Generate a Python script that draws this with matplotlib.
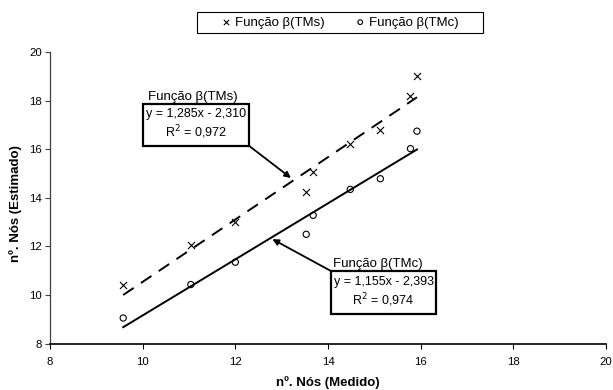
import matplotlib
matplotlib.use("Agg")
import matplotlib.pyplot as plt
from matplotlib.patches import Rectangle
import numpy as np

plt.rcParams['font.family'] = ['Liberation Sans', 'DejaVu Sans']

# Data
x_medido = [9.58, 11.04, 12.0, 13.53, 13.68, 14.48, 15.13, 15.78, 15.92]
y_tms = [10.43, 12.04, 13.0, 14.24, 15.07, 16.24, 16.79, 18.19, 19.02]
y_tmc = [9.05, 10.43, 11.35, 12.5, 13.28, 14.35, 14.79, 16.03, 16.75]

# Trendline coefficients (as printed on chart)
slope_tms, icpt_tms, r2_tms = 1.285, -2.310, 0.972
slope_tmc, icpt_tmc, r2_tmc = 1.155, -2.393, 0.974

label_tms = "Função β(TMs)"
label_tmc = "Função β(TMc)"
xticks = [8, 10, 12, 14, 16, 18, 20]
yticks = [8, 10, 12, 14, 16, 18, 20]

W, H = 613, 390
fig = plt.figure(figsize=(W/100, H/100), dpi=100)
ax = fig.add_axes([50/W, 1-343.5/H, (606-50)/W, (343.5-52.3)/H])

ax.scatter(x_medido, y_tms, marker='x', s=26, color='black', linewidths=0.8, label=label_tms, zorder=3)
ax.scatter(x_medido, y_tmc, marker='o', s=20, facecolors='none', edgecolors='black', linewidths=0.8, label=label_tmc, zorder=3)

xl = np.array([min(x_medido), max(x_medido)])
ax.plot(xl, slope_tms*xl + icpt_tms, color='black', lw=1.4, dashes=(6.5, 4.5))
ax.plot(xl, slope_tmc*xl + icpt_tmc, color='black', lw=1.4)

ax.set_xlim(8, 20)
ax.set_ylim(8, 20)
ax.set_xticks(xticks)
ax.set_yticks(yticks)
ax.tick_params(labelsize=8.2, length=3.6, width=0.8, direction='out', color='black')
ax.tick_params(axis='x', pad=6)
ax.tick_params(axis='y', pad=2, color='#404040')
for s in ['top', 'right']:
    ax.spines[s].set_visible(False)
ax.spines['left'].set_linewidth(0.9)
ax.spines['left'].set_color('#404040')
ax.spines['bottom'].set_linewidth(1.2)

ax.set_xlabel("nº. Nós (Medido)", fontsize=9.5, fontweight='bold')
ax.xaxis.set_label_coords(0.5, -(376-343.5)/(343.5-52.3))
ax.set_ylabel("nº. Nós (Estimado)", fontsize=9.5, fontweight='bold')
ax.yaxis.set_label_coords(-(50-22)/556, 0.48)

def fmt(v):
    return f"{v:.3f}".replace('.', ',')

def eq_text(m, b, r2):
    sign = '-' if b < 0 else '+'
    return f"y = {fmt(m)}x {sign} {fmt(abs(b))}\nR$^2$ = {fmt(r2)}"

def eq_box(x0, y0, w, h, text, title, title_xy, title_ha, tail, tip):
    ax.annotate("", xy=tip, xytext=tail, xycoords='data', textcoords='data',
                arrowprops=dict(arrowstyle='-|>', color='black', lw=1.3,
                                mutation_scale=9, shrinkA=0, shrinkB=0), zorder=4)
    ax.add_patch(Rectangle((x0, y0), w, h, fc='white', ec='black', lw=1.6, zorder=5))
    ax.text(x0 + w/2, y0 + h/2, text, ha='center', va='center', fontsize=9,
            linespacing=1.25, zorder=6)
    ax.text(title_xy[0], title_xy[1], title, ha=title_ha, va='center', fontsize=9.5, zorder=6)

# TMs annotation
eq_box(10.01, 16.14, 2.29, 1.75, eq_text(slope_tms, icpt_tms, r2_tms),
       label_tms, (11.09, 18.14), 'center', (12.30, 16.14), (13.2, 14.82))
# TMc annotation
eq_box(14.07, 9.21, 2.26, 1.77, eq_text(slope_tmc, icpt_tmc, r2_tmc),
       label_tmc, (14.1, 11.28), 'left', (14.07, 10.98), (12.8, 12.3))

# Legend with Excel-style frame
leg = fig.legend(loc='center', bbox_to_anchor=(340.4/W, 1-22.5/H), ncol=2,
                 fontsize=9.5, frameon=False,
                 handletextpad=0.4, columnspacing=2.4,
                 handlelength=0.6, markerscale=0.75)
fig.patches.append(Rectangle((197/W, 1-33/H), 286/W, 21/H, transform=fig.transFigure,
                             fill=False, ec='black', lw=0.8))

fig.savefig("out.png", dpi=100)
